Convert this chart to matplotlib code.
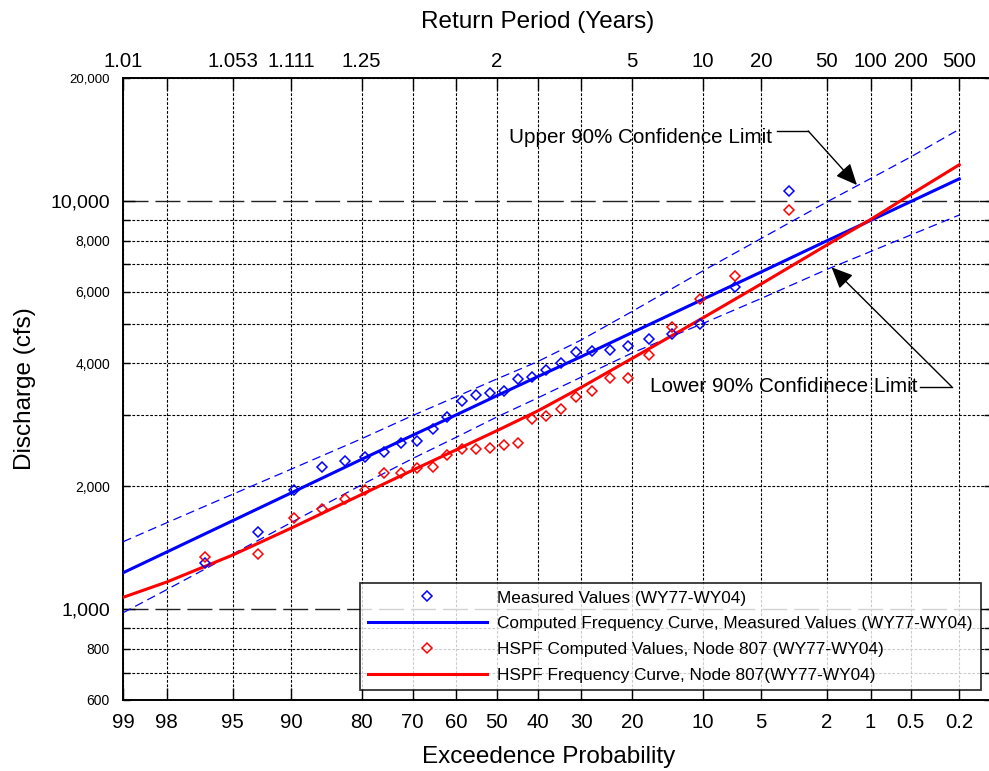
import numpy as np
import matplotlib
matplotlib.use("Agg")
import matplotlib.pyplot as plt
from matplotlib.lines import Line2D
from matplotlib.ticker import FixedLocator, FixedFormatter, NullLocator
from statistics import NormalDist

plt.rcParams['font.family'] = ['Liberation Sans', 'DejaVu Sans']

# Annual peak series WY77-WY04, ranked (Weibull plotting positions, % exceedance)
plot_pos = [3.45, 6.90, 10.34, 13.79, 17.24, 20.69, 24.14, 27.59, 31.03, 34.48,
            37.93, 41.38, 44.83, 48.28, 51.72, 55.17, 58.62, 62.07, 65.52, 68.97,
            72.41, 75.86, 79.31, 82.76, 86.21, 89.66, 93.10, 96.55]
measured = [10590, 6170, 4990, 4720, 4600, 4420, 4320, 4280, 4270, 4000,
            3860, 3710, 3670, 3430, 3390, 3350, 3230, 2950, 2760, 2585,
            2560, 2430, 2365, 2310, 2230, 1960, 1550, 1300]
hspf = [9520, 6550, 5750, 4900, 4200, 3680, 3680, 3420, 3320, 3090,
        2975, 2920, 2560, 2520, 2490, 2475, 2475, 2385, 2235, 2215,
        2160, 2155, 1960, 1860, 1760, 1670, 1365, 1340]

# Frequency curves and confidence limits at the probability grid (% exceedance)
curve_prob = [99, 98, 95, 90, 80, 70, 60, 50, 40, 30, 20, 10, 5, 2, 1, 0.5, 0.2]
measured_curve = [1229, 1382, 1648, 1927, 2330, 2668, 2993, 3335, 3712, 4156,
                  4760, 5741, 6699, 7987, 8961, 9963, 11330]
hspf_curve = [1070, 1167, 1358, 1580, 1911, 2191, 2458, 2738, 3059, 3494,
              4115, 5169, 6261, 7800, 9006, 10369, 12265]
upper_cl = [1464, 1630, 1913, 2203, 2617, 2982, 3316, 3665, 4041, 4565,
            5362, 6738, 8091, 9941, 11346, 12814, 14977]
lower_cl = [981, 1118, 1365, 1630, 2018, 2340, 2638, 2958, 3292, 3702,
            4243, 5010, 5769, 6796, 7519, 8253, 9237]

# Axis ticks
prob_ticks = [99, 98, 95, 90, 80, 70, 60, 50, 40, 30, 20, 10, 5, 2, 1, 0.5, 0.2]
prob_labels = ['99', '98', '95', '90', '80', '70', '60', '50', '40', '30', '20',
               '10', '5', '2', '1', '0.5', '0.2']
return_ticks = [99, 95, 90, 80, 50, 20, 10, 5, 2, 1, 0.5, 0.2]
return_labels = ['1.01', '1.053', '1.111', '1.25', '2', '5', '10', '20', '50',
                 '100', '200', '500']
y_major = [1000, 10000]
y_major_labels = ['1,000', '10,000']
y_minor = [600, 700, 800, 900, 2000, 3000, 4000, 5000, 6000, 7000, 8000, 9000, 20000]
y_minor_labels = ['600', '', '800', '', '2,000', '', '4,000', '', '6,000', '',
                  '8,000', '', '20,000']

_nd = NormalDist()


def _fwd(p):
    p = np.clip(np.asarray(p, dtype=float) / 100.0, 1e-12, 1 - 1e-12)
    return np.vectorize(_nd.inv_cdf, otypes=[float])(p)


def _inv(z):
    z = np.asarray(z, dtype=float)
    return 100.0 * np.vectorize(_nd.cdf, otypes=[float])(z)


W, H = 989, 771
fig = plt.figure(figsize=(W / 100, H / 100), dpi=100)
left, right, top, bottom = 123, 991, 78, 700
ax = fig.add_axes([left / W, 1 - bottom / H, (right - left) / W, (bottom - top) / H])

ax.set_xscale('function', functions=(_fwd, _inv))
ax.set_yscale('log')
XLIM = (99, 0.105)
ax.set_xlim(*XLIM)
ax.set_ylim(600, 20000)

BLUE = '#0000FF'
RED = '#FF0000'

# Confidence limits
ax.plot(curve_prob, upper_cl, color=BLUE, lw=0.9, dashes=(7, 4), zorder=3)
ax.plot(curve_prob, lower_cl, color=BLUE, lw=0.9, dashes=(7, 4), zorder=3)
# Frequency curves
ax.plot(curve_prob, measured_curve, color=BLUE, lw=2.2, zorder=4)
ax.plot(curve_prob, hspf_curve, color=RED, lw=2.2, zorder=4)
# Plotted peaks
mk = dict(marker='D', ms=4.8, mfc='none', mew=1.1, linestyle='none', zorder=5)
ax.plot(plot_pos, measured, mec=BLUE, **mk)
ax.plot(plot_pos, hspf, mec=RED, **mk)

# Bottom probability axis
ax.xaxis.set_major_locator(FixedLocator(prob_ticks))
ax.xaxis.set_major_formatter(FixedFormatter(prob_labels))
ax.xaxis.set_minor_locator(NullLocator())
ax.tick_params(axis='x', which='major', direction='in', length=8.6, width=1.0,
               labelsize=14.7, pad=9, bottom=True, top=False)

# Discharge axis
ax.yaxis.set_major_locator(FixedLocator(y_major))
ax.yaxis.set_major_formatter(FixedFormatter(y_major_labels))
ax.yaxis.set_minor_locator(FixedLocator(y_minor))
ax.yaxis.set_minor_formatter(FixedFormatter(y_minor_labels))
ax.tick_params(axis='y', which='major', direction='in', length=8.6, width=1.0,
               labelsize=14, pad=9.4, left=True, right=True)
ax.tick_params(axis='y', which='minor', direction='in', length=5, width=1.0,
               labelsize=10, pad=9.4, left=True, right=True)
for tick, val in zip(ax.yaxis.get_minor_ticks(), y_minor):
    if val == 20000:
        tick.label1.set_fontsize(9.5)

# Grid
ax.grid(axis='x', which='major', color='black', lw=0.8, linestyle=(0, (2.5, 1.5)))
ax.grid(axis='y', which='minor', color='black', lw=0.8, linestyle=(0, (2.5, 1.5)))
ax.grid(axis='y', which='major', color='#222222', lw=1.0, linestyle=(0, (18, 5)))
ax.set_axisbelow(True)

for s in ax.spines.values():
    s.set_linewidth(1.4)
    s.set_color('black')

# Top return-period axis
ax2 = ax.twiny()
ax2.set_xscale('function', functions=(_fwd, _inv))
ax2.set_xlim(*XLIM)
top_labels = [return_labels[return_ticks.index(p)] if p in return_ticks else ''
              for p in prob_ticks]
ax2.xaxis.set_major_locator(FixedLocator(prob_ticks))
ax2.xaxis.set_major_formatter(FixedFormatter(top_labels))
ax2.xaxis.set_minor_locator(NullLocator())
ax2.tick_params(axis='x', which='major', direction='in', length=8.6, width=1.0,
                labelsize=14.7, pad=5)
for s in ax2.spines.values():
    s.set_visible(False)

# Titles
fig.text(537.5 / W, 1 - 28.3 / H, 'Return Period (Years)', fontsize=17.5,
         ha='center', va='baseline')
fig.text(548.8 / W, 1 - 762.7 / H, 'Exceedence Probability', fontsize=17.5,
         ha='center', va='baseline')
fig.text(31 / W, 1 - 388.3 / H, 'Discharge (cfs)', fontsize=17.5, rotation=90,
         rotation_mode='anchor', ha='center', va='baseline')

# Confidence-limit callouts
arrow = dict(arrowstyle='-|>,head_length=1.0,head_width=0.45', color='black',
             lw=1.0, shrinkA=0, shrinkB=0, mutation_scale=13)
ax.text(4.34, 13841, 'Upper 90% Confidence Limit', fontsize=14.9,
        ha='right', va='baseline', zorder=6)
ax.plot([4.08, 2.63], [14835, 14835], color='black', lw=1.0, zorder=6)
ax.annotate('', xy=(1.25, 10940), xytext=(2.63, 14835), arrowprops=arrow, zorder=6)

ax.text(0.444, 3400, 'Lower 90% Confidinece Limit', fontsize=14.9,
        ha='right', va='baseline', zorder=6)
ax.plot([0.4226, 0.232], [3510, 3510], color='black', lw=1.0, zorder=6)
ax.annotate('', xy=(1.86, 6879), xytext=(0.232, 3510), arrowprops=arrow, zorder=6)

# Legend
handles = [
    Line2D([], [], marker='D', ms=4.8, mfc='none', mec=BLUE, mew=1.1, linestyle='none'),
    Line2D([], [], color=BLUE, lw=2.2),
    Line2D([], [], marker='D', ms=4.8, mfc='none', mec=RED, mew=1.1, linestyle='none'),
    Line2D([], [], color=RED, lw=2.2),
]
labels = ['Measured Values (WY77-WY04)',
          'Computed Frequency Curve, Measured Values (WY77-WY04)',
          'HSPF Computed Values, Node 807 (WY77-WY04)',
          'HSPF Frequency Curve, Node 807(WY77-WY04)']
leg = ax.legend(handles, labels, loc='upper left',
                bbox_to_anchor=(360 / W, 1 - 582.7 / H), bbox_transform=fig.transFigure,
                fontsize=12.4, frameon=True, fancybox=False, shadow=False,
                borderaxespad=0, borderpad=0.45, handlelength=6.9,
                handletextpad=0.62, labelspacing=0.62, numpoints=1)
leg.get_frame().set_edgecolor('black')
leg.get_frame().set_linewidth(1.3)
leg.set_zorder(10)

fig.savefig('out.png', dpi=100)
